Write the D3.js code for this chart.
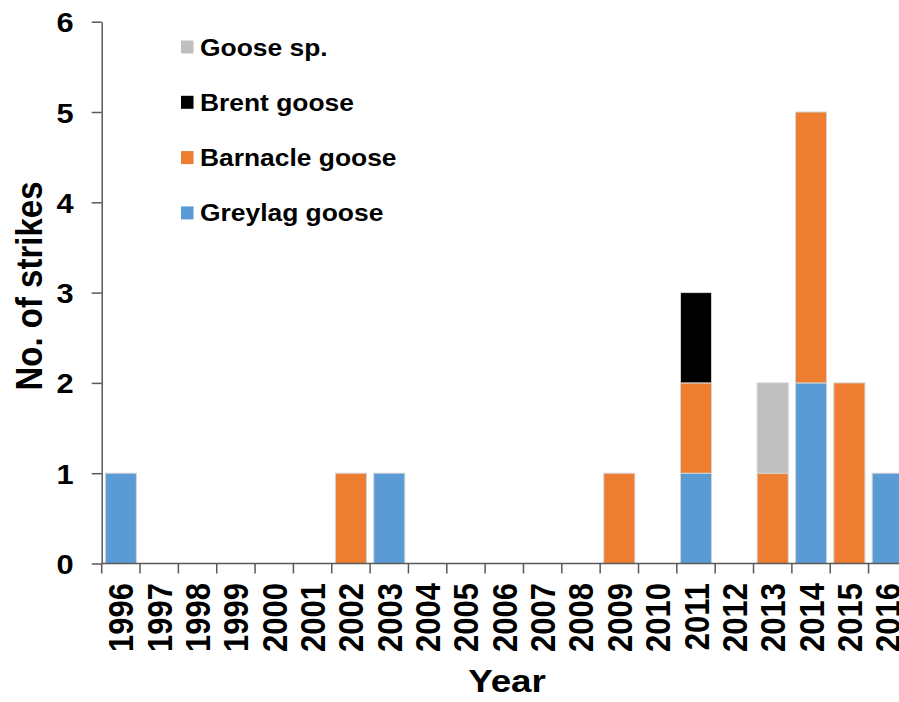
<!DOCTYPE html>
<html>
<head>
<meta charset="utf-8">
<script src="https://cdn.jsdelivr.net/npm/d3@7"></script>
<style>
  html, body { margin: 0; padding: 0; background: #fff; }
  svg { display: block; }
  text { font-family: "Liberation Sans", Arial, Helvetica, sans-serif; font-weight: bold; fill: #000; }
</style>
</head>
<body>
<svg id="chart" width="899" height="702"></svg>
<script>
const years = ["1996","1997","1998","1999","2000","2001","2002","2003","2004","2005","2006","2007","2008","2009","2010","2011","2012","2013","2014","2015","2016"];
const greylag  = [1,0,0,0,0,0,0,1,0,0,0,0,0,0,0,1,0,0,2,0,1];
const barnacle = [0,0,0,0,0,0,1,0,0,0,0,0,0,1,0,1,0,1,3,2,0];
const brent    = [0,0,0,0,0,0,0,0,0,0,0,0,0,0,0,1,0,0,0,0,0];
const gooseSp  = [0,0,0,0,0,0,0,0,0,0,0,0,0,0,0,0,0,1,0,0,0];
const seriesNames = ["Greylag goose","Barnacle goose","Brent goose","Goose sp."];
const seriesColors = ["#5B9BD5","#ED7D31","#000000","#BFBFBF"];
const yTicks = [0,1,2,3,4,5,6];

const rows = years.map((y,i) => ({year:y, "Greylag goose":greylag[i], "Barnacle goose":barnacle[i], "Brent goose":brent[i], "Goose sp.":gooseSp[i]}));
const stacked = d3.stack().keys(seriesNames)(rows);

const svg = d3.select("#chart");
const x0 = 101.7, x1 = 906.9, yBase = 563.5, yTop = 21.7;
const pInner = 0.19;
const sx = 1.12; // horizontal text stretch seen in the reference
const x = d3.scaleBand().domain(years).range([x0, x1]).paddingInner(pInner).paddingOuter(pInner/2);
const y = d3.scaleLinear().domain([0,6]).range([yBase, yTop]);
const color = d3.scaleOrdinal().domain(seriesNames).range(seriesColors);
const axisColor = "#595959";

// bars
svg.append("g").selectAll("g").data(stacked).join("g")
  .attr("fill", d => color(d.key))
  .selectAll("rect").data(d => d.filter(p => p[1] - p[0] > 0)).join("rect")
  .attr("x", d => x(d.data.year))
  .attr("width", x.bandwidth())
  .attr("y", d => y(d[1]))
  .attr("height", d => y(d[0]) - y(d[1]))
  .attr("stroke", "#d4d4d4")
  .attr("stroke-width", 1);

// y axis
const yAxis = svg.append("g").attr("transform", `translate(${x0},0)`)
  .call(d3.axisLeft(y).tickValues(yTicks).tickFormat(d3.format("d")).tickSize(10).tickSizeOuter(0).tickPadding(18));
yAxis.attr("font-family", null).attr("font-size", null);
yAxis.select(".domain").attr("stroke", axisColor).attr("stroke-width", 1.5);
yAxis.selectAll(".tick line").attr("stroke", axisColor).attr("stroke-width", 1.5);
yAxis.selectAll(".tick text")
  .attr("x", 0)
  .attr("transform", `translate(-28,0) scale(1.1,1)`)
  .attr("font-size", 28)
  .attr("dy", "0.36em");

// x axis line
svg.append("line").attr("x1", x0).attr("x2", 899).attr("y1", yBase).attr("y2", yBase)
  .attr("stroke", axisColor).attr("stroke-width", 1.5);
// category boundary ticks
const step = x.step();
svg.append("g").selectAll("line").data(years).join("line")
  .attr("x1", d => x(d) - step*pInner/2).attr("x2", d => x(d) - step*pInner/2)
  .attr("y1", yBase).attr("y2", yBase + 10)
  .attr("stroke", axisColor).attr("stroke-width", 1.5);
// x labels
svg.append("g").selectAll("text").data(years).join("text")
  .attr("transform", d => `translate(${x(d) + x.bandwidth()/2},583) scale(${sx},1) rotate(-90)`)
  .attr("text-anchor", "end")
  .attr("dy", "0.36em")
  .attr("font-size", 31)
  .text(d => d);

// axis titles
svg.append("text").attr("transform", `translate(42,286) scale(${sx},1) rotate(-90)`)
  .attr("text-anchor", "middle").attr("font-size", 33).text("No. of strikes");
svg.append("text").attr("transform", `translate(507,692) scale(1.15,1)`)
  .attr("text-anchor", "middle").attr("font-size", 32).text("Year");

// legend (top to bottom: reverse of stack order)
const legendOrder = seriesNames.slice().reverse();
const lg = svg.append("g").selectAll("g").data(legendOrder).join("g")
  .attr("transform", (d,i) => `translate(181,${47 + i*55.3})`);
lg.append("rect").attr("x", 0).attr("y", -6.5).attr("width", 12.5).attr("height", 13)
  .attr("fill", d => color(d));
lg.append("text").attr("transform", "translate(19,8.5) scale(1.1,1)")
  .attr("font-size", 24).text(d => d);
</script>
</body>
</html>
